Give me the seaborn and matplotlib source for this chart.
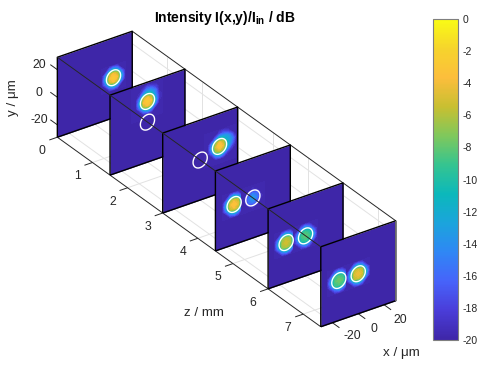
import numpy as np
import matplotlib
matplotlib.use("Agg")
import matplotlib.pyplot as plt
import seaborn as sb
from matplotlib.cm import ScalarMappable
from matplotlib.colors import Normalize
from mpl_toolkits.mplot3d import proj3d

# axes
x_lim = [-29, 29]
y_lim = [-29, 29]
z_lim = [0, 7.5]
x_ticks = [-20, 0, 20]
y_ticks = [-20, 0, 20]
z_ticks = [0, 1, 2, 3, 4, 5, 6, 7]
cbar_ticks = list(range(0, -21, -2))

# z position of each panel
panel_z = [0, 1.5, 3, 4.5, 6, 7.5]

# white core outlines, (x, y) per panel, um
core_r = 5.5
cores = [
    [(14.5, 0)],
    [(0, 15), (0, 0)],
    [(15, 5), (0, 0)],
    [(-14.5, 0), (0, 0)],
    [(-15, 0), (0, 0)],
    [(-15, 0), (0, 0)],
]

# intensity in dB around each spot, sampled every 3 um, top row is highest y
spot1 = [
    [-20, -20, -20, -20, -20, -20, -20],
    [-20, -20, -15, -12, -15, -20, -20],
    [-20, -15, -6, -4, -6, -15, -20],
    [-20, -12, -4, -2.5, -4, -12, -20],
    [-20, -15, -6, -4, -6, -15, -20],
    [-20, -20, -15, -12, -15, -20, -20],
    [-20, -20, -20, -20, -20, -20, -20],
]
spot2 = [
    [-20, -20, -20, -20, -19, -20, -20, -20, -20],
    [-20, -20, -20, -18, -16, -16, -18, -20, -20],
    [-20, -20, -19, -14, -11, -12, -15, -20, -20],
    [-20, -20, -15, -6, -4, -6, -14, -19, -20],
    [-20, -20, -12, -4, -2.5, -4, -12, -19, -20],
    [-20, -20, -15, -6, -4, -6, -15, -20, -20],
    [-20, -20, -20, -15, -12, -15, -20, -20, -20],
    [-20, -20, -20, -20, -20, -20, -20, -20, -20],
    [-20, -20, -20, -20, -20, -20, -20, -20, -20],
]
spot3 = [
    [-20, -20, -20, -20, -20, -20, -20, -20, -20],
    [-20, -20, -20, -20, -18, -17, -18, -20, -20],
    [-20, -20, -20, -16, -11, -12, -13, -16, -20],
    [-20, -20, -15, -7, -4, -6, -12, -14, -18],
    [-20, -20, -13, -5, -2.5, -4.5, -11, -15, -19],
    [-20, -20, -16, -7, -5, -7, -14, -18, -20],
    [-20, -20, -20, -15, -12, -15, -19, -20, -20],
    [-20, -20, -20, -20, -20, -20, -20, -20, -20],
    [-20, -20, -20, -20, -20, -20, -20, -20, -20],
]
spot4a = [
    [-20, -20, -20, -20, -20, -20, -20],
    [-20, -20, -15, -12, -15, -20, -20],
    [-20, -15, -6, -4.5, -6, -15, -20],
    [-20, -12, -4.5, -3, -4.5, -12, -20],
    [-20, -15, -6, -4.5, -6, -15, -20],
    [-20, -20, -15, -12, -15, -20, -20],
    [-20, -20, -20, -20, -20, -20, -20],
]
spot4b = [
    [-20, -20, -20, -20, -20, -20, -20],
    [-20, -20, -20, -19, -20, -20, -20],
    [-20, -20, -17, -15, -16, -20, -20],
    [-20, -19, -15, -13, -15, -19, -20],
    [-20, -20, -16, -15, -17, -20, -20],
    [-20, -20, -20, -19, -20, -20, -20],
    [-20, -20, -20, -20, -20, -20, -20],
]
spot5a = [
    [-20, -20, -20, -20, -20, -20, -20],
    [-20, -20, -15, -12, -15, -20, -20],
    [-20, -15, -7, -6, -7, -15, -20],
    [-20, -12, -6, -5, -6, -12, -20],
    [-20, -15, -7, -6, -7, -15, -20],
    [-20, -20, -15, -12, -15, -20, -20],
    [-20, -20, -20, -20, -20, -20, -20],
]
spot5b = [
    [-20, -20, -20, -20, -20, -20, -20],
    [-20, -20, -16, -13, -16, -20, -20],
    [-20, -16, -10, -9, -10, -16, -20],
    [-20, -13, -9, -8, -9, -13, -20],
    [-20, -16, -10, -9, -10, -16, -20],
    [-20, -20, -16, -13, -16, -20, -20],
    [-20, -20, -20, -20, -20, -20, -20],
]
spot6a = [
    [-20, -20, -20, -20, -20, -20, -20],
    [-20, -20, -16, -13, -16, -20, -20],
    [-20, -16, -9, -8.5, -9, -16, -20],
    [-20, -13, -8.5, -7.5, -8.5, -13, -20],
    [-20, -16, -9, -8.5, -9, -16, -20],
    [-20, -20, -16, -13, -16, -20, -20],
    [-20, -20, -20, -20, -20, -20, -20],
]
spot6b = [
    [-20, -20, -20, -20, -20, -20, -20],
    [-20, -20, -15, -12, -15, -20, -20],
    [-20, -15, -6, -5, -6, -15, -20],
    [-20, -12, -5, -4, -5, -12, -20],
    [-20, -15, -6, -5, -6, -15, -20],
    [-20, -20, -15, -12, -15, -20, -20],
    [-20, -20, -20, -20, -20, -20, -20],
]
spots = [
    [(14.5, 0, spot1)],
    [(0, 15, spot2)],
    [(15, 5, spot3)],
    [(-14.5, 0, spot4a), (0, 0, spot4b)],
    [(-15, 0, spot5a), (0, 0, spot5b)],
    [(-15, 0, spot6a), (0, 0, spot6b)],
]

parula = ["#3e26a8", "#4a3dd9", "#4763fa", "#2f87f5", "#1ba4dc", "#0bb8bb",
          "#35c490", "#7fc85c", "#c8bf31", "#fcbe3c", "#f6d42c", "#f9fb15"]

sb.set_theme(style="white")
plt.rcParams["font.family"] = ["Liberation Sans", "DejaVu Sans"]
plt.rcParams["mathtext.fontset"] = "custom"
plt.rcParams["mathtext.bf"] = "Liberation Sans:bold"
plt.rcParams["axes.unicode_minus"] = False
cmap = sb.blend_palette(parula, as_cmap=True)
norm = Normalize(-20, 0)
levels = np.linspace(-20, 0, 41)
ink = "#262626"
W, H = 489, 371

fig = plt.figure(figsize=(W / 100, H / 100), dpi=100)
ax = fig.add_axes([-23 / W, 1.5 / H, 1, 1], projection="3d", proj_type="ortho", computed_zorder=False)
# with y as the vertical axis the box aspect runs z, x, y
ax.set_box_aspect((462, 91.3, 92.4), zoom=1.2547)
ax.view_init(elev=30, azim=-34.8, vertical_axis="y")
ax.set_xlim(x_lim)
ax.set_ylim(y_lim)
ax.set_zlim(z_lim)
ax.set_axis_off()


def line(xs, ys, zs, color=ink, lw=0.7, zorder=1):
    ax.plot(xs, ys, zs, color=color, lw=lw, zorder=zorder, solid_capstyle="butt")


def label(x, y, z, s):
    xs, ys, _ = proj3d.proj_transform(x, y, z, ax.get_proj())
    ax.text2D(xs, ys, s, transform=ax.transData, ha="center", va="center", color=ink, fontsize=8.8, zorder=300)


x0, x1 = x_lim
y0, y1 = y_lim
z0, z1 = z_lim
grid = "#e2e2e2"
for v in x_ticks:
    line([v, v], [y0, y0], [z0, z1], grid)
for v in y_ticks:
    line([x1, x1], [v, v], [z0, z1], grid)
for v in z_ticks:
    line([x0, x1], [y0, y0], [v, v], grid)
    line([x1, x1], [y0, y1], [v, v], grid)

# box behind the panels
line([x1, x1], [y1, y1], [z0, z1], zorder=2)
line([x1, x1], [y0, y0], [z0, z1], zorder=2)
line([x0, x0], [y0, y0], [z0, z1], zorder=2)

for k, z in enumerate(panel_z):
    base = 10 + 10 * k
    xx, yy = np.meshgrid(x_lim, y_lim)
    ax.plot_surface(xx, yy, np.full_like(xx, z, dtype=float), color=cmap(0.0), shade=False,
                    antialiased=False, linewidth=0, zorder=base)
    for xc, yc, table in spots[k]:
        vals = np.flipud(np.array(table, dtype=float))
        ny, nx = vals.shape
        xs = xc + 3 * (np.arange(nx) - nx // 2)
        ys = yc + 3 * (np.arange(ny) - ny // 2)
        cs = ax.contourf(xs, ys, vals, levels=levels, cmap=cmap, norm=norm, zdir="z", offset=z)
        cs.set_zorder(base + 1)
    t = np.linspace(0, 2 * np.pi, 60)
    for xc, yc in cores[k]:
        line(xc + core_r * np.cos(t), yc + core_r * np.sin(t), np.full_like(t, z), "white", 1.0, base + 2)
    line([x0, x1, x1, x0, x0], [y0, y0, y1, y1, y0], [z] * 5, "black", 1.0, base + 3)

# box edge passing in front of the panels
line([x0, x0], [y1, y1], [z0, z1], zorder=200)
line([x1, x1], [y0, y1], [z1, z1], "#7f7f7f", 1.2, zorder=200)

# ticks
for v in y_ticks:
    line([x0, x0], [v, v], [z0, z0 - 0.2])
    label(x0 - 6.2, v, z0 - 0.284, str(v))
for v in z_ticks:
    line([x0, x0 - 6.2], [y0, y0], [v, v])
    label(x0 - 11.6, y0 - 6.2, v, str(v))
for v in x_ticks:
    line([v, v], [y0, y0], [z1, z1 + 0.2])
    label(v + (3.5 if v < 0 else 0), y0 - 2.9, z1 + 0.45, str(v))

fig.text(204 / W, 1 - 313 / H, "z / mm", ha="center", va="center", color=ink, fontsize=9.6)
fig.text(401 / W, 1 - 353 / H, "x / \u03bcm", ha="center", va="center", color=ink, fontsize=9.6)
fig.text(13 / W, 1 - 98 / H, "y / \u03bcm", ha="center", va="center", rotation=90, color=ink, fontsize=9.6)
fig.text(224.5 / W, 1 - 18 / H, r"Intensity I(x,y)/I$_{\mathbf{in}}$ / dB", ha="center", va="center",
         color="black", fontsize=10, fontweight="bold")

cax = fig.add_axes([433 / W, 1 - 340 / H, 25 / W, 321 / H])
cb = fig.colorbar(ScalarMappable(norm=norm, cmap=cmap), cax=cax)
cb.set_ticks(cbar_ticks)
cb.ax.tick_params(labelsize=7.5, length=3, width=0.6, direction="in", color=ink, labelcolor=ink, pad=3, right=True)
cb.outline.set_edgecolor("#7f7f7f")
cb.outline.set_linewidth(0.8)

fig.savefig("out.png", dpi=100)
